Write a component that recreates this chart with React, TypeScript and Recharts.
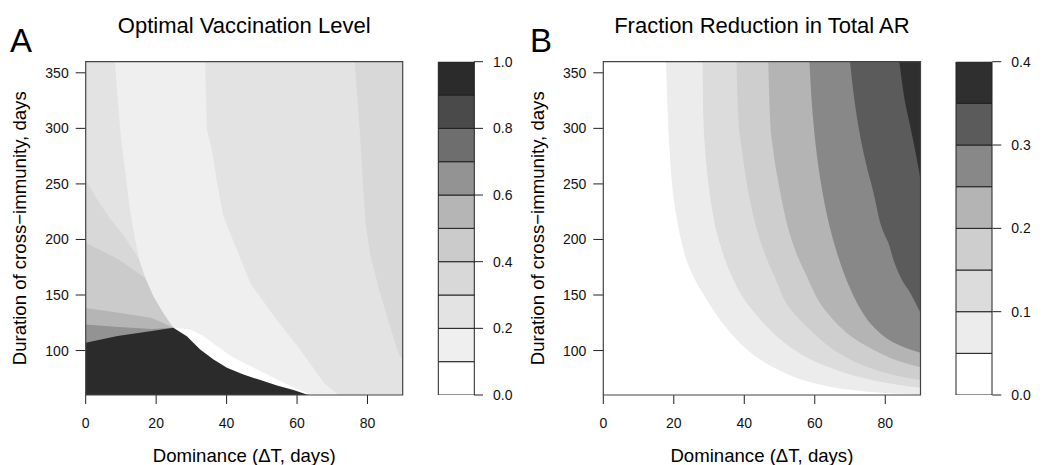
import { ComposedChart, Area, XAxis, YAxis, ReferenceArea, BarChart, Bar } from 'recharts'

const FONT = '"Liberation Sans", Arial, Helvetica, sans-serif'
const INK = '#222'

const xTicks = [0, 20, 40, 60, 80]
const yTicks = [100, 150, 200, 250, 300, 350]

// colour keys, bottom to top
const levelsA = [0, 0.1, 0.2, 0.3, 0.4, 0.5, 0.6, 0.7, 0.8, 0.9, 1.0]
const greysA = ['#ffffff', '#efefef', '#e3e3e3', '#d8d8d8', '#cbcbcb', '#b5b5b5', '#939393', '#6e6e6e', '#4a4a4a', '#2b2b2b']
const keyTicksA = [0, 0.2, 0.4, 0.6, 0.8, 1.0]

const levelsB = [0, 0.05, 0.1, 0.15, 0.2, 0.25, 0.3, 0.35, 0.4]
const greysB = ['#ffffff', '#ececec', '#dcdcdc', '#cecece', '#b4b4b4', '#888888', '#5b5b5b', '#2f2f2f']
const keyTicksB = [0, 0.1, 0.2, 0.3, 0.4]

// A: contour edges, [dominance, duration]
const aEdgeRight = [[76.4, 360], [77.8, 298], [79.4, 216], [80.8, 186], [83.2, 156], [86, 126], [88.9, 96.5], [90, 92]]
const aEdge3 = [[0, 253], [3.3, 236], [7.1, 218], [10.9, 203], [15.2, 182], [17, 165], [19.2, 149], [22, 134], [24.9, 120.5]]
const aEdge4 = [[0, 197], [9.4, 182], [17, 165], [19.2, 149], [22, 134], [24.9, 120.5]]
const aEdge5 = [[0, 138.4], [9.4, 134], [18.8, 129.4], [24.9, 120.5]]
const aEdge6 = [[0, 123.4], [9.4, 121.3], [18.8, 119.5], [24.9, 120.5]]
const aBandLeft = [[8.3, 360], [9.0, 330], [9.9, 295], [11.4, 257], [12.5, 228], [13.9, 202], [15.2, 182], [17, 165], [19.2, 149], [22, 134], [24.9, 120.5]]
const aBandRight = [[33.9, 360], [34.4, 299], [35.8, 281], [37.3, 251], [39.1, 221], [42.9, 191], [46.7, 161], [53.4, 131], [60.9, 101], [67.6, 71], [71.8, 60]]
const aGapTop = [[24.9, 120.5], [29.7, 119], [33.4, 113], [37.2, 104], [42, 93.5], [46.7, 86], [51.5, 78.5], [56.2, 71], [60, 65.6], [63.8, 60.5]]
const aDarkTop = [[0, 107], [9, 113], [18.8, 117.5], [24.9, 120.5], [28.7, 112.9], [32.5, 101], [36.3, 92], [40.1, 84.5], [44.8, 78.5], [49.6, 73.4], [54.3, 68.6], [59, 64.4], [62.8, 60.5], [63.8, 60]]

// B: contour edges, 0.05 .. 0.35
const bEdge1 = [[17.8, 360], [18.3, 310], [18.8, 280], [19.5, 250], [20.8, 220], [22.8, 190], [25.8, 165], [28.5, 150], [31.5, 135], [35, 120], [39, 106], [44, 93], [50, 82], [57, 73], [65, 67], [75, 63], [90, 60.5]]
const bEdge2 = [[28.2, 360], [28.4, 310], [28.9, 281], [29.8, 251], [31.2, 221], [33.6, 191], [37.2, 162], [39.8, 147], [44, 130], [49.5, 112], [56, 97], [64, 85], [74, 75], [84, 69], [90, 66.5]]
const bEdge3 = [[37.8, 360], [38.3, 310], [39.3, 281], [40.7, 251], [42.6, 221], [45.4, 191], [49.2, 162], [51, 148], [54.8, 131], [59.5, 116], [65.2, 101], [72.8, 88], [81.3, 79], [90, 73.5]]
const bEdge4 = [[46.8, 360], [47.3, 310], [48.2, 281], [49.7, 251], [51.6, 221], [54.4, 191], [57.7, 167], [60.5, 148], [64.3, 131], [69, 116], [74.7, 104], [81.3, 93.5], [90, 85]]
const bEdge5 = [[58.5, 360], [58.9, 336], [59.6, 306], [60.6, 276], [62, 246], [63.9, 216], [66.5, 186], [70, 156], [74, 132], [78.8, 115], [84.5, 104], [90, 98]]
const bEdge6 = [[70, 360], [71, 331.6], [72.4, 301.6], [74.3, 271.7], [76.7, 241.7], [78.6, 214.8], [80, 202.8], [80.9, 196.8], [82.3, 181.9], [84.2, 166.9], [87.1, 151.9], [90, 134]]
const bEdge7 = [[84, 360], [85.2, 331.6], [87.1, 301.6], [89, 271.7], [90, 254]]

type Edge = number[][]
type Layer = { data: { x: number; v: number[] }[]; fill: string }

const above = (edge: Edge) => edge.map(([x, y]) => ({ x, v: [y, 360] }))
const below = (edge: Edge) => edge.map(([x, y]) => ({ x, v: [60, y] }))

const layersA: Layer[] = [
  { data: below([[0, 360], [90, 360]]), fill: greysA[2] },
  { data: above(aEdgeRight), fill: greysA[3] },
  { data: below(aEdge3), fill: greysA[3] },
  { data: below(aEdge4), fill: greysA[4] },
  { data: below(aEdge5), fill: greysA[5] },
  { data: below(aEdge6), fill: greysA[6] },
  { data: [...above(aBandLeft), { x: 25, v: [60, 360] }, ...below(aBandRight)], fill: greysA[1] },
  { data: below(aGapTop), fill: greysA[0] },
  { data: below(aDarkTop), fill: greysA[9] },
]

const layersB: Layer[] = [bEdge1, bEdge2, bEdge3, bEdge4, bEdge5, bEdge6, bEdge7].map((e, i) => ({
  data: above(e),
  fill: greysB[i + 1],
}))

const tickStyle = { fontSize: 14, fill: '#111', fontFamily: FONT }

function ContourPanel({ left, yWidth, right, layers, curve }: { left: number; yWidth: number; right: number; layers: Layer[]; curve: 'linear' | 'monotone' }) {
  return (
    <div style={{ position: 'absolute', left, top: 0 }}>
      <ComposedChart width={420} height={465} margin={{ top: 61.7, right, bottom: 0, left: 0 }}>
        <XAxis
          type="number"
          dataKey="x"
          domain={[0, 90]}
          ticks={xTicks}
          allowDataOverflow
          height={70}
          tickSize={9}
          tickMargin={14}
          axisLine={false}
          tickLine={{ stroke: INK }}
          tick={tickStyle}
        />
        <YAxis
          type="number"
          domain={[60, 360]}
          ticks={yTicks}
          allowDataOverflow
          width={yWidth}
          tickSize={10}
          tickMargin={7}
          axisLine={false}
          tickLine={{ stroke: INK }}
          tick={tickStyle}
        />
        {layers.map((l, i) => (
          <Area
            key={i}
            data={l.data}
            dataKey="v"
            type={curve}
            fill={l.fill}
            fillOpacity={1}
            stroke="none"
            dot={false}
            activeDot={false}
            isAnimationActive={false}
          />
        ))}
        <ReferenceArea x1={0} x2={90} y1={60} y2={360} fill="none" stroke="#444" strokeWidth={1.2} ifOverflow="visible" zIndex={2000} />
      </ComposedChart>
    </div>
  )
}

function ColourKey({ left, width, plotLeft, yWidth, levels, greys, ticks }: { left: number; width: number; plotLeft: number; yWidth: number; levels: number[]; greys: string[]; ticks: number[] }) {
  const row: Record<string, number | string> = { k: 'key' }
  greys.forEach((_, i) => {
    row['s' + i] = levels[i + 1] - levels[i]
  })
  return (
    <div style={{ position: 'absolute', left, top: 0 }}>
      <BarChart width={width} height={465} data={[row]} margin={{ top: 61.7, right: 0, bottom: 70, left: plotLeft }} barCategoryGap={0} barGap={0}>
        <XAxis dataKey="k" hide />
        <YAxis
          orientation="right"
          type="number"
          domain={[0, levels[levels.length - 1]]}
          ticks={ticks}
          allowDataOverflow
          width={yWidth}
          tickSize={9}
          tickMargin={10}
          axisLine={false}
          tickLine={{ stroke: INK }}
          tick={tickStyle}
          tickFormatter={(v: number) => v.toFixed(1)}
        />
        {greys.map((g, i) => (
          <Bar key={i} dataKey={'s' + i} stackId="k" fill={g} stroke={INK} strokeWidth={1} isAnimationActive={false} />
        ))}
      </BarChart>
    </div>
  )
}

export default function App() {
  return (
    <div style={{ position: 'absolute', left: 0, top: 0, width: 1043, height: 465, background: '#fff', fontFamily: FONT }}>
      <ContourPanel left={0} yWidth={85.7} right={17.3} layers={layersA} curve="linear" />
      <ColourKey left={420} width={120} plotLeft={18.3} yWidth={66} levels={levelsA} greys={greysA} ticks={keyTicksA} />
      <ContourPanel left={520} yWidth={83.3} right={19.5} layers={layersB} curve="monotone" />
      <ColourKey left={940} width={103} plotLeft={16} yWidth={50.7} levels={levelsB} greys={greysB} ticks={keyTicksB} />
      <svg width={1043} height={465} style={{ position: 'absolute', left: 0, top: 0, pointerEvents: 'none' }} fontFamily={FONT} fill="#000">
        <text x={10} y={52} fontSize={33}>A</text>
        <text x={530} y={52} fontSize={33}>B</text>
        <text x={244.2} y={33} fontSize={22} textAnchor="middle">Optimal Vaccination Level</text>
        <text x={761.9} y={33} fontSize={22} textAnchor="middle">Fraction Reduction in Total AR</text>
        <text x={244.2} y={461.7} fontSize={18.6} textAnchor="middle">Dominance (ΔT, days)</text>
        <text x={761.9} y={461.7} fontSize={18.6} textAnchor="middle">Dominance (ΔT, days)</text>
        <text transform="translate(26.4,228.3) rotate(-90)" fontSize={18.6} textAnchor="middle">Duration of cross−immunity, days</text>
        <text transform="translate(544,228.3) rotate(-90)" fontSize={18.6} textAnchor="middle">Duration of cross−immunity, days</text>
      </svg>
    </div>
  )
}
